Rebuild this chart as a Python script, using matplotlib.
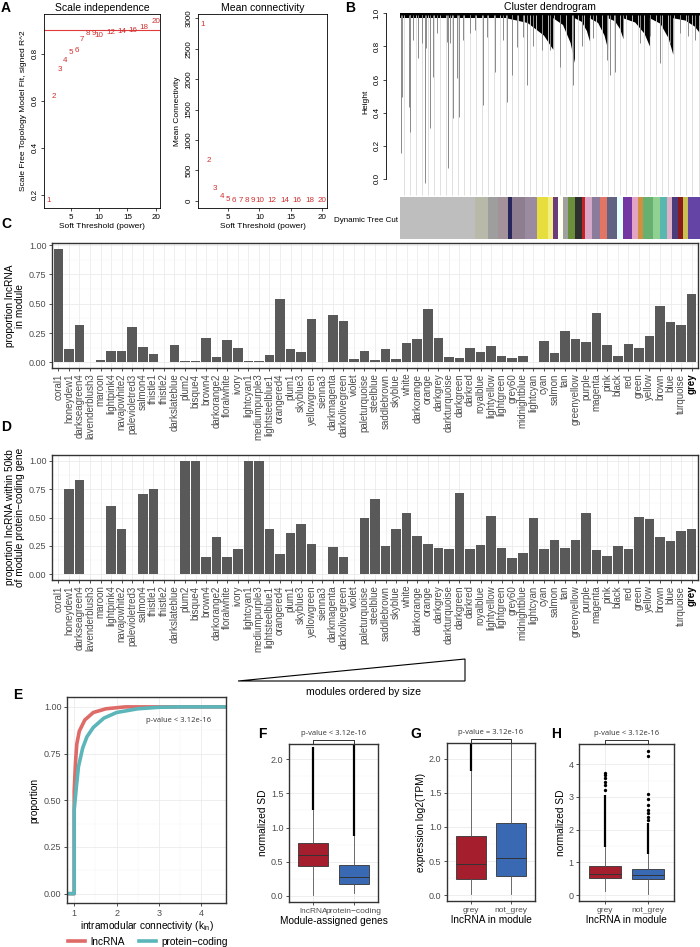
import numpy as np
import matplotlib.pyplot as plt
from matplotlib.patches import Polygon
from matplotlib.lines import Line2D
from matplotlib.transforms import blended_transform_factory

plt.rcParams['font.family'] = ['Liberation Sans', 'DejaVu Sans']
plt.rcParams['mathtext.fontset'] = 'custom'
plt.rcParams['mathtext.rm'] = 'Liberation Sans'

W, H = 700, 947

# ---- A: soft threshold
powers = [1, 2, 3, 4, 5, 6, 7, 8, 9, 10, 12, 14, 16, 18, 20]
sft_r2 = [0.173, 0.619, 0.735, 0.77, 0.806, 0.816, 0.86, 0.889, 0.889, 0.878,
          0.893, 0.895, 0.898, 0.911, 0.937]
mean_k = [2900, 662, 208, 71, 27, 12, 6, 3, 2, 1, 0.5, 0.3, 0.2, 0.1, 0.1]
r2_cut = 0.90

# ---- B: dendrogram (simplified: hanging branches + dense clusters) and module colours
dendro_drop_x = [0.002, 0.006, 0.031, 0.033, 0.044, 0.061, 0.072, 0.083, 0.086, 0.1,
                 0.111, 0.122, 0.156, 0.159, 0.167, 0.176, 0.189, 0.197, 0.211, 0.233,
                 0.25, 0.278, 0.289, 0.317, 0.344, 0.356, 0.372, 0.389, 0.411, 0.422,
                 0.444, 0.472, 0.5, 0.533, 0.578, 0.606, 0.644, 0.689, 0.7, 0.717,
                 0.744, 0.8, 0.833, 0.867, 0.9, 0.933, 0.961, 0.983]
dendro_drop_h = [0.155, 0.497, 0.437, 0.286, 0.839, 0.728, 0.819, -0.026, 0.789, 0.306,
                 0.618, 0.879, 0.829, 0.064, 0.819, 0.366, 0.608, 0.376, 0.839, 0.879,
                 0.9, 0.447, 0.859, 0.648, 0.839, 0.467, 0.628, 0.799, 0.859, 0.567,
                 0.8, 0.78, 0.78, 0.678, 0.567, 0.8, 0.85, 0.72, 0.63, 0.648,
                 0.85, 0.82, 0.86, 0.7, 0.82, 0.88, 0.86, 0.84]
cluster_start = [0.356, 0.511, 0.583, 0.633, 0.694, 0.744, 0.833, 0.911]
cluster_end = [0.511, 0.583, 0.633, 0.694, 0.744, 0.833, 0.911, 1.0]
cluster_depth = [0.78, 0.70, 0.83, 0.78, 0.85, 0.80, 0.75, 0.88]
n_leaf_lines = 50
module_bar_colors = ['#BEBEBE', '#B9B9AA', '#9E9E9E', '#A3929A', '#27275E', '#8E7E8F', '#9A8BA0',
                     '#E6DE3C', '#F3EE86', '#6C3B7B', '#FFFFF0', '#A0A0A0', '#6B8E3A', '#2F2F2F',
                     '#C42323', '#D8A8C8', '#8C7C9C', '#E27563', '#626282', '#E6FFFF', '#7436A2',
                     '#E3A3C3', '#D09040', '#68B070', '#90D090', '#58B8B0', '#E0B0C8', '#4B3B7B',
                     '#8B1A1A', '#C8C050', '#6444A4']
module_bar_widths = [225, 40, 30, 30, 10, 40, 35, 35, 15, 15, 15, 15, 20, 20, 10, 20, 25, 20,
                     30, 18, 27, 20, 15, 30, 20, 20, 15, 20, 15, 15, 35]

# ---- C / D: modules
modules = ['coral1', 'honeydew1', 'darkseagreen4', 'lavenderblush3', 'maroon', 'lightpink4',
           'navajowhite2', 'palevioletred3', 'salmon4', 'thistle1', 'thistle2', 'darkslateblue',
           'plum2', 'bisque4', 'brown4', 'darkorange2', 'floralwhite', 'ivory', 'lightcyan1',
           'mediumpurple3', 'lightsteelblue1', 'orangered4', 'plum1', 'skyblue3', 'yellowgreen',
           'sienna3', 'darkmagenta', 'darkolivegreen', 'violet', 'paleturquoise', 'steelblue',
           'saddlebrown', 'skyblue', 'white', 'darkorange', 'orange', 'darkgrey', 'darkturquoise',
           'darkgreen', 'darkred', 'royalblue', 'lightyellow', 'lightgreen', 'grey60',
           'midnightblue', 'lightcyan', 'cyan', 'salmon', 'tan', 'greenyellow', 'purple',
           'magenta', 'pink', 'black', 'red', 'green', 'yellow', 'brown', 'blue', 'turquoise',
           'grey']
prop_lnc = [0.97, 0.11, 0.32, 0.0, 0.02, 0.10, 0.10, 0.30, 0.135, 0.07, 0.0, 0.15,
            0.015, 0.015, 0.205, 0.045, 0.19, 0.12, 0.01, 0.01, 0.06, 0.54, 0.115, 0.09, 0.37,
            0.0, 0.40, 0.35, 0.025, 0.10, 0.02, 0.11, 0.03, 0.165, 0.20, 0.455, 0.21, 0.045,
            0.035, 0.12, 0.085, 0.14, 0.05, 0.04, 0.055, 0.005, 0.18, 0.08, 0.265, 0.20, 0.17,
            0.42, 0.145, 0.05, 0.155, 0.125, 0.225, 0.485, 0.34, 0.32, 0.585]
prop_near = [np.nan, 0.75, 0.83, np.nan, np.nan, 0.60, 0.40, np.nan, 0.71, 0.75, np.nan, 0.005,
             1.0, 1.0, 0.15, 0.33, 0.15, 0.22, 1.0, 1.0, 0.40, 0.18, 0.36, 0.44, 0.27,
             np.nan, 0.24, 0.15, 0.005, 0.50, 0.667, 0.25, 0.40, 0.54, 0.335, 0.27, 0.233, 0.22,
             0.714, 0.22, 0.26, 0.51, 0.236, 0.143, 0.19, 0.50, 0.22, 0.30, 0.233, 0.306, 0.54,
             0.213, 0.157, 0.25, 0.227, 0.507, 0.484, 0.332, 0.29, 0.38, 0.396]

# ---- E: cumulative distribution of intramodular connectivity
ecdf_lnc_x = [1.0, 1.0, 1.03, 1.06, 1.12, 1.25, 1.45, 1.75, 2.2, 4.4]
ecdf_lnc_y = [0.0, 0.55, 0.70, 0.80, 0.87, 0.93, 0.97, 0.99, 1.0, 1.0]
ecdf_pc_x = [1.0, 1.0, 1.05, 1.1, 1.2, 1.3, 1.45, 1.7, 2.0, 2.5, 3.0, 3.5, 4.4]
ecdf_pc_y = [0.0, 0.45, 0.57, 0.68, 0.78, 0.84, 0.89, 0.94, 0.97, 0.99, 0.998, 1.0, 1.0]

# ---- F, G, H: boxplot summaries (dense outliers given as a range)
F_groups = ['lncRNA', 'protein\u2212coding']
F_q1, F_med, F_q3 = [0.444, 0.173], [0.593, 0.27], [0.775, 0.455]
F_lo, F_hi = [0.015, 0.05], [1.25, 0.88]
F_dense_top = [2.18, 2.2]
F_sparse = [[], []]

G_groups = ['grey', 'not_grey']
G_q1, G_med, G_q3 = [0.235, 0.28], [0.45, 0.55], [0.868, 1.06]
G_lo, G_hi = [0.015, 0.015], [1.82, 2.5]
G_dense_top = [2.5, 2.5]
G_sparse = [[], []]

H_groups = ['grey', 'not_grey']
H_q1, H_med, H_q3 = [0.51, 0.48], [0.633, 0.61], [0.888, 0.786]
H_lo, H_hi = [0.13, 0.03], [1.46, 1.26]
H_dense_top = [3.05, 2.2]
H_sparse = [[3.2, 3.36, 3.47, 3.57, 3.67, 3.74],
            [2.3, 2.4, 2.5, 2.6, 2.75, 2.95, 3.08, 4.25, 4.42]]

RED_TXT = '#D03030'
BOX_COLS = ['#A51E2D', '#3A69B4']
TICK_C = '#4D4D4D'

fig = plt.figure(figsize=(W / 100, H / 100), dpi=100)


def add_ax(l, t, r, b):
    return fig.add_axes([l / W, 1 - b / H, (r - l) / W, (b - t) / H])


def fig_text(x, y, s, **kw):
    fig.text(x / W, 1 - y / H, s, **kw)


def base_r(ax):
    for s in ax.spines.values():
        s.set_linewidth(0.6)
        s.set_color('black')
    ax.tick_params(length=2.5, width=0.5, labelsize=5.8, pad=1.5)


def gg(ax, tick_size=6.5):
    ax.set_facecolor('white')
    for s in ax.spines.values():
        s.set_linewidth(1.0)
        s.set_color('#333333')
    ax.set_axisbelow(True)
    ax.grid(which='major', color='#EBEBEB', lw=0.6)
    ax.grid(which='minor', color='#F4F4F4', lw=0.35)
    ax.tick_params(which='major', length=2.5, width=0.6, color='#333333',
                   labelcolor=TICK_C, labelsize=tick_size, pad=1.5)
    ax.tick_params(which='minor', length=0)


# ================= A
for i, (l, r, yv, title, ylab) in enumerate([
        (44, 160, sft_r2, 'Scale independence', 'Scale Free Topology Model Fit, signed R^2'),
        (198, 327, mean_k, 'Mean connectivity', 'Mean Connectivity')]):
    ax = add_ax(l, 14, r, 208)
    base_r(ax)
    for p, v in zip(powers, yv):
        ax.text(p, v, str(p), color=RED_TXT, ha='center', va='center', fontsize=5.8)
    ax.set_xlim(0.24, 20.76)
    ax.set_xticks([5, 10, 15, 20])
    if i == 0:
        ax.axhline(r2_cut, color='#E03A3A', lw=0.8)
        ax.set_ylim(0.143, 0.97)
        ax.set_yticks([0.2, 0.4, 0.6, 0.8])
    else:
        ax.set_ylim(-116, 3070)
        ax.set_yticks(np.arange(0, 3001, 500))
    plt.setp(ax.get_yticklabels(), rotation=90, va='center')
    ax.set_title(title, fontsize=7.5, pad=2)
    ax.set_xlabel('Soft Threshold (power)', fontsize=6.0, labelpad=2)
    ax.set_ylabel(ylab, fontsize=6.0, labelpad=3)

# ================= B
axB = add_ax(400, 8, 700, 196)
axB.set_xlim(0, 1)
axB.set_ylim(-0.103, 1.032)
axB.vlines(np.linspace(0.012, 0.995, n_leaf_lines), -0.097, 0.99, color='#DADADA', lw=0.6)
axB.vlines(dendro_drop_x, dendro_drop_h, 0.99, color='#8A8A8A', lw=0.7)
axB.fill_between([0, 1], 0.972, 1.0, color='black', lw=0)
for s, e, d in zip(cluster_start, cluster_end, cluster_depth):
    w = e - s
    axB.add_patch(Polygon([(s, 0.99), (e, 0.99), (e, d), (s + 0.8 * w, d + 0.45 * (0.97 - d)),
                           (s + 0.45 * w, d + 0.85 * (0.97 - d)), (s, 0.97)],
                          closed=True, color='black', lw=0))
for k in ['top', 'right', 'bottom']:
    axB.spines[k].set_visible(False)
axB.spines['left'].set_position(('outward', 10))
axB.spines['left'].set_bounds(0, 1)
axB.spines['left'].set_linewidth(0.6)
axB.set_xticks([])
axB.set_yticks(np.arange(0, 1.01, 0.2))
axB.tick_params(length=2.5, width=0.5, labelsize=5.8, pad=1.5)
plt.setp(axB.get_yticklabels(), rotation=90, va='center')
axB.set_ylabel('Height', fontsize=6.0, labelpad=3)
fig_text(550, 7, 'Cluster dendrogram', fontsize=7.5, ha='center', va='center')

axBc = add_ax(400, 197, 700, 239)
axBc.barh(0, module_bar_widths, left=np.cumsum([0] + module_bar_widths[:-1]),
          color=module_bar_colors, height=1.0, lw=0)
axBc.set_xlim(0, sum(module_bar_widths))
axBc.set_ylim(-0.5, 0.5)
axBc.axis('off')
fig_text(398, 220, 'Dynamic Tree Cut', fontsize=5.8, ha='right', va='center')

# ================= C / D
xpos = np.arange(1, len(modules) + 1)
for vals, (t, b), ylab in [(prop_lnc, (243, 368), 'proportion lncRNA\nin module'),
                           (prop_near, (455, 580),
                            'proportion lncRNA within 50kb\nof module protein\u2212coding gene')]:
    ax = add_ax(52, t, 698, b)
    gg(ax, 6.5)
    ax.bar(xpos, vals, width=0.9, color='#595959', lw=0)
    ax.set_xlim(0.4, len(modules) + 0.6)
    top = np.nanmax(vals)
    ax.set_ylim(-0.05 * top, 1.05 * top)
    ax.set_yticks([0, 0.25, 0.5, 0.75, 1.0])
    ax.set_yticklabels(['0.00', '0.25', '0.50', '0.75', '1.00'])
    ax.set_yticks([0.125, 0.375, 0.625, 0.875], minor=True)
    ax.set_xticks(xpos)
    ax.set_xticklabels(modules, rotation=90, fontsize=7.0, color=TICK_C)
    lab = ax.get_xticklabels()[-1]
    lab.set_fontweight('bold')
    lab.set_color('black')
    ax.set_ylabel(ylab, fontsize=7.3, labelpad=3, linespacing=0.95)

tri = [(238, 681), (465, 659), (465, 681)]
fig.patches.append(Polygon([(x / W, 1 - y / H) for x, y in tri], closed=True, fill=False,
                           edgecolor='black', lw=0.8, transform=fig.transFigure, figure=fig))
fig_text(363, 692, 'modules ordered by size', fontsize=7.6, ha='center', va='center')

# ================= E
axE = add_ax(67, 697, 226, 903)
gg(axE, 6.5)
xl = (0.83, 4.58)
axE.plot([xl[0]] + ecdf_lnc_x + [xl[1]], [0] + ecdf_lnc_y + [1], color='#DE6B68', lw=2.6,
         solid_capstyle='butt')
axE.plot([xl[0]] + ecdf_pc_x + [xl[1]], [0] + ecdf_pc_y + [1], color='#5BB5B9', lw=2.6,
         solid_capstyle='butt')
axE.set_xlim(*xl)
axE.set_ylim(-0.05, 1.053)
axE.set_xticks([1, 2, 3, 4])
axE.set_xticks([1.5, 2.5, 3.5], minor=True)
axE.set_yticks([0, 0.25, 0.5, 0.75, 1.0])
axE.set_yticklabels(['0.00', '0.25', '0.50', '0.75', '1.00'])
axE.set_yticks([0.125, 0.375, 0.625, 0.875], minor=True)
axE.set_ylabel('proportion', fontsize=7.3, labelpad=3)
axE.set_xlabel('intramodular connectivity (k$_{\\mathrm{in}}$)', fontsize=7.3, labelpad=1)
axE.text(0.70, 0.888, 'p-value < 3.12e-16', transform=axE.transAxes, ha='center', va='center',
         fontsize=5.5, family=['Open Sans', 'DejaVu Sans'], color='#333333')
handles = [Line2D([], [], color='#DE6B68', lw=2.6), Line2D([], [], color='#5BB5B9', lw=2.6)]
fig.legend(handles, ['lncRNA', 'protein\u2212coding'], ncol=2, frameon=False, fontsize=7.3,
           loc='center', bbox_to_anchor=(148 / W, 1 - 942 / H), handlelength=1.7,
           handletextpad=0.5, columnspacing=1.4, borderpad=0)


# ================= F, G, H
def box_panel(box, groups, q1, med, q3, lo, hi, dense_top, sparse, ylim, yticks, yfmt,
              ylab, xlab, ptxt):
    ax = add_ax(*box)
    gg(ax, 6.5)
    stats = [dict(label=g, q1=a, med=m, q3=c, whislo=w1, whishi=w2, fliers=f)
             for g, a, m, c, w1, w2, f in zip(groups, q1, med, q3, lo, hi, sparse)]
    ax.bxp(stats, positions=[1, 2], widths=0.75, patch_artist=True, showcaps=False,
           boxprops=dict(edgecolor='#333333', lw=0.6),
           medianprops=dict(color='#333333', lw=0.7),
           whiskerprops=dict(color='#555555', lw=0.6),
           flierprops=dict(marker='o', ms=1.4, mfc='black', mec='black'))
    for p, c in zip(ax.patches, BOX_COLS):
        p.set_facecolor(c)
    ax.vlines([1, 2], hi, dense_top, color='black', lw=1.6)
    ax.set_xlim(0.4, 2.6)
    ax.set_ylim(*ylim)
    ax.set_yticks(yticks)
    ax.set_yticklabels([yfmt % v for v in yticks])
    ax.set_yticks([(a + b) / 2 for a, b in zip(yticks[:-1], yticks[1:])], minor=True)
    ax.tick_params(axis='x', labelsize=6.0)
    ax.set_ylabel(ylab, fontsize=7.3, labelpad=2)
    ax.set_xlabel(xlab, fontsize=7.3, labelpad=1)
    tr = blended_transform_factory(ax.transData, ax.transAxes)
    ax.plot([1, 1, 2, 2], [1.0, 1.028, 1.028, 1.0], color='#333333', lw=0.7,
            transform=tr, clip_on=False)
    ax.text(1.5, 1.045, ptxt, transform=tr, ha='center', va='bottom', fontsize=5.5,
            family=['Open Sans', 'DejaVu Sans'], color='#333333')
    return ax


box_panel((289, 744, 378, 902), F_groups, F_q1, F_med, F_q3, F_lo, F_hi, F_dense_top, F_sparse,
          (-0.088, 2.22), [0, 0.5, 1.0, 1.5, 2.0], '%.1f', 'normalized SD',
          'Module-assigned genes', 'p-value < 3.12e-16')
box_panel((447, 743, 535, 901), G_groups, G_q1, G_med, G_q3, G_lo, G_hi, G_dense_top, G_sparse,
          (-0.088, 2.235), [0, 0.5, 1.0, 1.5, 2.0], '%.1f', 'expression log2(TPM)',
          'lncRNA in module', 'p-value = 3.12e-16')
box_panel((579, 744, 674, 901), H_groups, H_q1, H_med, H_q3, H_lo, H_hi, H_dense_top, H_sparse,
          (-0.18, 4.62), [0, 1, 2, 3, 4], '%d', 'normalized SD',
          'lncRNA in module', 'p-value < 3.12e-16')

# ================= panel letters
for letter, x, y in [('A', 1, 1), ('B', 345, 1), ('C', 1, 217), ('D', 1, 420),
                     ('E', 13, 688), ('F', 258, 727), ('G', 410, 727), ('H', 551, 727)]:
    fig_text(x, y, letter, fontsize=10, fontweight='bold', ha='left', va='top')

fig.savefig('out.png', dpi=100)
